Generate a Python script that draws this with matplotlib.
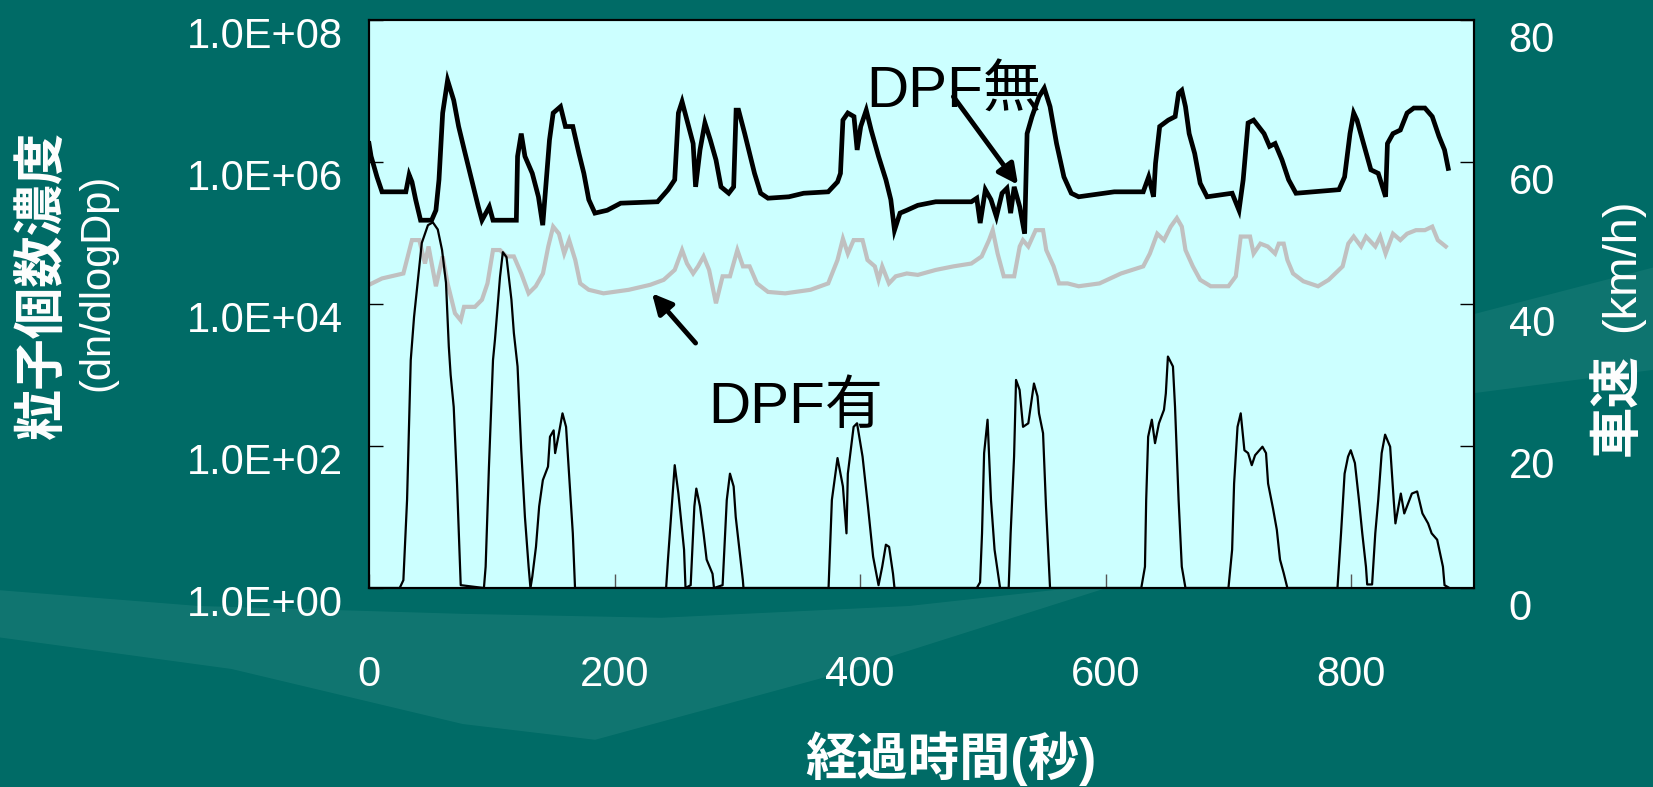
import matplotlib
matplotlib.use("Agg")
import matplotlib.pyplot as plt
from matplotlib.transforms import ScaledTranslation
from matplotlib.patches import Polygon

plt.rcParams['font.family'] = ['Liberation Sans', 'Noto Sans CJK JP', 'DejaVu Sans']

# elapsed time (s) and log10 particle number concentration, DPF none
no_dpf_t = [0, 1.7, 6.5, 10.6, 22, 30, 32.7, 35, 38, 42, 51, 54.5, 57, 60, 64, 69, 73, 77.6, 83, 89,
            92, 98, 101, 120, 121, 124, 127, 133, 138, 141.5, 144, 147, 150, 156, 160, 166, 171, 175,
            179, 184, 194, 205, 235, 243.6, 249, 252, 255, 259, 264, 266, 269.6, 273.6, 278, 282.6,
            286.7, 293, 297, 299, 301, 306, 310, 314, 319, 325, 342, 354, 374, 381.6, 384, 386, 390,
            395, 397.6, 400.5, 405, 409, 415, 421, 425, 428, 432.5, 438, 447, 461.6, 490.6, 495,
            497.8, 502, 506.6, 511, 515.6, 519.6, 522.6, 525.5, 530, 534, 536, 540, 545.7, 550,
            554.7, 560, 566, 572, 578, 607, 630.6, 635, 639, 640.6, 644, 651, 656.6, 659.4, 662,
            665, 668, 672.5, 677, 682.6, 703, 708.6, 712, 716, 720.5, 729, 733.5, 738, 743.6, 749,
            755, 790, 794.6, 799, 802, 804.7, 810, 816, 822, 828, 829.5, 834, 840, 845.5, 851, 860,
            866, 871.5, 876, 879]
no_dpf_log = [6.26, 6.08, 5.79, 5.58, 5.58, 5.58, 5.82, 5.72, 5.47, 5.18, 5.18, 5.32, 5.75, 6.69, 7.15,
              6.87, 6.50, 6.17, 5.79, 5.37, 5.18, 5.37, 5.18, 5.18, 6.08, 6.40, 6.08, 5.84, 5.51, 5.11,
              5.65, 6.31, 6.69, 6.78, 6.50, 6.50, 6.12, 5.84, 5.47, 5.28, 5.32, 5.42, 5.44, 5.61, 5.75,
              6.69, 6.85, 6.59, 6.26, 5.65, 6.17, 6.55, 6.31, 6.03, 5.65, 5.56, 5.65, 6.73, 6.73, 6.40,
              6.12, 5.84, 5.56, 5.49, 5.51, 5.56, 5.58, 5.72, 5.84, 6.59, 6.69, 6.64, 6.17, 6.50, 6.73,
              6.45, 6.08, 5.75, 5.47, 5.04, 5.28, 5.32, 5.39, 5.44, 5.44, 5.49, 5.14, 5.61, 5.47, 5.23,
              5.56, 5.63, 5.28, 5.65, 5.37, 4.99, 6.40, 6.64, 6.92, 7.04, 6.78, 6.26, 5.79, 5.56, 5.51,
              5.58, 5.58, 5.79, 5.51, 5.98, 6.50, 6.59, 6.64, 6.97, 7.01, 6.78, 6.40, 6.12, 5.70, 5.51,
              5.56, 5.32, 5.75, 6.55, 6.59, 6.40, 6.22, 6.26, 6.03, 5.75, 5.56, 5.61, 5.79, 6.40, 6.69,
              6.59, 6.26, 5.89, 5.84, 5.51, 6.26, 6.40, 6.45, 6.69, 6.76, 6.76, 6.64, 6.36, 6.17, 5.91]

# DPF fitted
dpf_t = [0, 10.6, 28, 35, 41, 45.6, 48.5, 54.5, 60, 64, 70, 74.7, 77.4, 86.3, 92, 96.5, 101, 106.7,
         112, 118, 124, 130, 135.8, 141.7, 146, 150, 154.7, 159, 163, 168, 172, 179, 191, 211.6, 229,
         240, 249, 255, 259, 264, 268, 272.5, 277, 282.6, 288, 294, 300, 304.6, 310, 316, 325, 339,
         359.6, 374, 381.6, 386, 390, 394.7, 402, 406, 412, 415, 418, 423.5, 429, 438, 447, 461.6,
         476, 490.6, 499, 505, 508, 512, 517, 525.5, 530, 532.6, 537, 543, 549, 551.6, 557.6, 562,
         569, 578, 595, 612.5, 630.6, 636, 642, 647.5, 653, 658, 662, 665, 671, 677, 685.6, 700, 706,
         710, 717.6, 720.5, 726, 732, 738, 741, 745, 748, 752.6, 761, 773, 781.6, 793, 797.6, 802,
         808, 812, 819.6, 823.6, 828, 834, 840, 845.5, 852.7, 860, 866, 870.5, 877]
dpf_log = [4.27, 4.36, 4.43, 4.90, 4.90, 4.57, 4.81, 4.25, 4.67, 4.29, 3.87, 3.77, 3.96, 3.96, 4.06,
           4.29, 4.76, 4.76, 4.67, 4.67, 4.43, 4.15, 4.25, 4.43, 4.81, 5.09, 4.99, 4.71, 4.90, 4.62,
           4.29, 4.20, 4.15, 4.20, 4.27, 4.34, 4.48, 4.76, 4.57, 4.43, 4.53, 4.67, 4.48, 4.01, 4.39,
           4.39, 4.76, 4.53, 4.53, 4.29, 4.17, 4.15, 4.20, 4.29, 4.62, 4.92, 4.71, 4.90, 4.90, 4.62,
           4.53, 4.34, 4.53, 4.29, 4.39, 4.43, 4.41, 4.48, 4.53, 4.57, 4.67, 4.90, 5.04, 4.71, 4.39,
           4.39, 4.81, 4.90, 4.81, 5.04, 5.04, 4.76, 4.53, 4.29, 4.29, 4.25, 4.29, 4.43, 4.53, 4.71,
           4.99, 4.90, 5.09, 5.21, 5.09, 4.76, 4.53, 4.34, 4.25, 4.25, 4.39, 4.95, 4.95, 4.71, 4.85,
           4.81, 4.71, 4.85, 4.85, 4.62, 4.43, 4.32, 4.25, 4.34, 4.53, 4.85, 4.95, 4.81, 4.95, 4.81,
           4.95, 4.71, 4.99, 4.90, 4.99, 5.04, 5.04, 5.09, 4.90, 4.81]

# vehicle speed (km/h)
speed_t = [0, 25, 28, 31, 34, 36.7, 39, 43, 48, 52, 56, 59.5, 62.7, 65, 66.5, 69, 71.7, 74.7,
           93.6, 95, 97.7, 101, 102.6, 106.7, 109, 112, 116, 118, 121, 124, 127, 130, 131.5,
           133, 136, 138.6, 141.6, 145.8, 147.4, 150.4, 151.6, 154.7, 157.6, 160.5, 163.4, 166, 167.8,
           242, 243.5, 249, 252, 256.6, 257.8, 262, 265, 266.6, 269.6, 272.5, 275, 279.8, 281,
           288, 291.4, 294, 297, 298.7, 301.4, 304.5, 305,
           374.3, 377, 381.6, 386, 388.9, 390, 394.7, 397.5, 402, 406.4, 410.6, 415, 418, 421, 423.6,
           426.8, 428,
           495, 497.7, 499.3, 501, 503.8, 506.6, 509.5, 514,
           521, 522.6, 525.4, 527, 529.9, 532.7, 537, 541.6, 544.5, 545.7, 549, 551.4, 554.7,
           629, 632, 633, 634.6, 637.6, 640.2, 643.4, 647.5, 649, 650.7, 654.8, 656.5, 659.4, 662, 665,
           700, 703, 704.6, 707.4, 710, 713, 716, 719, 721.7, 727.7, 730.6, 732.3, 736.3, 739.4, 742,
           745, 748,
           788.8, 791.7, 794.6, 797.4, 799.6, 803, 806.3, 809, 812, 813, 817, 819.6, 822, 824.8, 827.6,
           831.7, 834.6, 836, 840.4, 843.2, 849.4, 853.7, 858, 862.6, 865.5, 870, 874.7, 876, 880]
speed_v = [0, 0, 1.1, 12.4, 32.1, 38.2, 42, 48.6, 51.1, 51.5, 50.5, 47.6, 43.0, 34, 30, 25.5, 14.7, 0.4,
           0, 3.0, 17.1, 32.1, 35, 43.8, 47.3, 46.6, 40.6, 35.9, 31.2, 19.4, 10.0, 3.0, 0,
           1.6, 5.8, 11.5, 15.2, 17.1, 21.3, 22.2, 19.0, 21.8, 24.6, 22.7, 14.7, 7.7, 0,
           0, 4.0, 17.3, 13.3, 5.4, 0, 0.4, 11.5, 14.0, 11.5, 7.7, 4.0, 2.0, 0,
           0.4, 12.4, 16.1, 14.3, 10.0, 5.8, 1.1, 0,
           0, 12.4, 18.3, 14.3, 7.7, 16.1, 22.7, 23.2, 18.5, 11.5, 4.4, 0.4, 3.0, 6.1, 5.8,
           2.0, 0,
           0, 0.8, 7.7, 19.0, 23.7, 12.4, 5.4, 0,
           0, 7.7, 18.5, 29.3, 27.9, 22.7, 23.2, 28.8, 27.0, 24.6, 21.8, 11.5, 0,
           0, 3.0, 12.4, 21.3, 23.7, 20.4, 23.2, 25.1, 27.4, 32.6, 31.2, 25.5, 12.4, 3.0, 0,
           0, 5.4, 14.7, 22.7, 24.6, 19.4, 19.0, 17.3, 18.7, 19.9, 19.0, 14.7, 11.2, 8.2, 4.0,
           2.1, 0,
           0, 7.7, 16.1, 18.5, 19.4, 17.6, 12.4, 7.7, 3.0, 0.5, 0.5, 7.7, 12.4, 19.0, 21.6,
           19.9, 12.4, 9.1, 13.3, 10.5, 13.3, 13.6, 10.5, 9.1, 7.7, 6.8, 3.0, 0.4, 0]

xticks = [0, 200, 400, 600, 800]
yticks_left = [1e0, 1e2, 1e4, 1e6, 1e8]
ylabels_left = ["1.0E+00", "1.0E+02", "1.0E+04", "1.0E+06", "1.0E+08"]
yticks_right = [0, 20, 40, 60, 80]

bg = "#006B66"
fig = plt.figure(figsize=(16.53, 7.87), dpi=100, facecolor=bg)

# faint decorative swoosh of the slide background, kept behind everything
fig.patches.append(Polygon([(0, 0.25), (0.12, 0.23), (0.28, 0.22), (0.40, 0.215), (0.55, 0.23),
                            (0.68, 0.26), (0.50, 0.14), (0.36, 0.06), (0.28, 0.08), (0.14, 0.15), (0, 0.19)],
                           closed=True, transform=fig.transFigure, facecolor="#2F8A84",
                           edgecolor="none", alpha=0.35, zorder=-5))
fig.patches.append(Polygon([(0.89, 0.50), (1.0, 0.53), (1.0, 0.66), (0.89, 0.60)],
                           closed=True, transform=fig.transFigure, facecolor="#2F8A84",
                           edgecolor="none", alpha=0.3, zorder=-5))

ax = fig.add_axes([369 / 1653, 1 - 588 / 787, (1474 - 369) / 1653, (588 - 20) / 787])
ax.set_facecolor("#CCFFFF")
no_dpf = [10 ** v for v in no_dpf_log]
dpf = [10 ** v for v in dpf_log]
ax.plot(dpf_t, dpf, color="#C0C0C0", lw=3.0, solid_joinstyle="miter")
ax.plot(no_dpf_t, no_dpf, color="black", lw=3.4, solid_joinstyle="miter")
ax.set_yscale("log")
ax.set_ylim(1, 1e8)
ax.set_xlim(0, 900)
ax.set_yticks(yticks_left)
ax.set_yticklabels(ylabels_left)
ax.minorticks_off()
ax.set_xticks(xticks)
ax.tick_params(axis="y", direction="in", length=10, width=1, color="black", labelsize=30,
               labelcolor="white", pad=19)
ax.tick_params(axis="x", direction="in", length=10, width=1, color="#555555", labelsize=30,
               labelcolor="white", pad=48)
for s in ax.spines.values():
    s.set_linewidth(1.5)
    s.set_color("black")

ax2 = ax.twinx()
ax2.plot(speed_t, speed_v, color="black", lw=1.6)
ax2.set_ylim(0, 80)
ax2.set_yticks(yticks_right)
ax2.tick_params(axis="y", direction="in", length=10, width=1, color="black", labelsize=30,
                labelcolor="white", pad=25)
for s in ax2.spines.values():
    s.set_linewidth(1.5)

# tick labels sit a little low in the original
for lab in ax.get_yticklabels():
    lab.set_transform(lab.get_transform() + ScaledTranslation(0, -0.12, fig.dpi_scale_trans))
for lab in ax2.get_yticklabels():
    lab.set_transform(lab.get_transform() + ScaledTranslation(0, -0.17, fig.dpi_scale_trans))

# annotations
ax.text(405, 10 ** 6.76, "DPF無", fontsize=42, color="black", ha="left", va="baseline")
ax.annotate("", xy=(528.6, 10 ** 5.68), xytext=(476, 10 ** 6.92),
            arrowprops=dict(arrowstyle="-|>,head_length=1.2,head_width=0.6", lw=3.5, color="black",
                            shrinkA=0, shrinkB=0))
ax.text(276, 10 ** 2.32, "DPF有", fontsize=42, color="black", ha="left", va="baseline")
ax.annotate("", xy=(230.5, 10 ** 4.15), xytext=(266, 10 ** 3.45),
            arrowprops=dict(arrowstyle="-|>,head_length=1.2,head_width=0.6", lw=3.5, color="black",
                            shrinkA=0, shrinkB=0))

# axis titles
fig.text(44 / 1653, 1 - 285 / 787, "粒子個数濃度", rotation=90, fontsize=37, fontweight="bold",
         color="white", ha="center", va="center")
fig.text(97 / 1653, 1 - 282 / 787, "(dn/dlogDp)", rotation=90, fontsize=30,
         color="white", ha="center", va="center")
fig.text(1618 / 1653, 1 - 405 / 787, "車速", rotation=90, fontsize=37, fontweight="bold",
         color="white", ha="center", va="center")
fig.text(1622 / 1653, 1 - 265 / 787, "(km/h)", rotation=90, fontsize=34,
         color="white", ha="center", va="center")
fig.text(951 / 1653, 1 - 759 / 787, "経過時間(秒)", fontsize=37, fontweight="bold",
         color="white", ha="center", va="center")

fig.savefig("out.png", dpi=100, facecolor=fig.get_facecolor())
